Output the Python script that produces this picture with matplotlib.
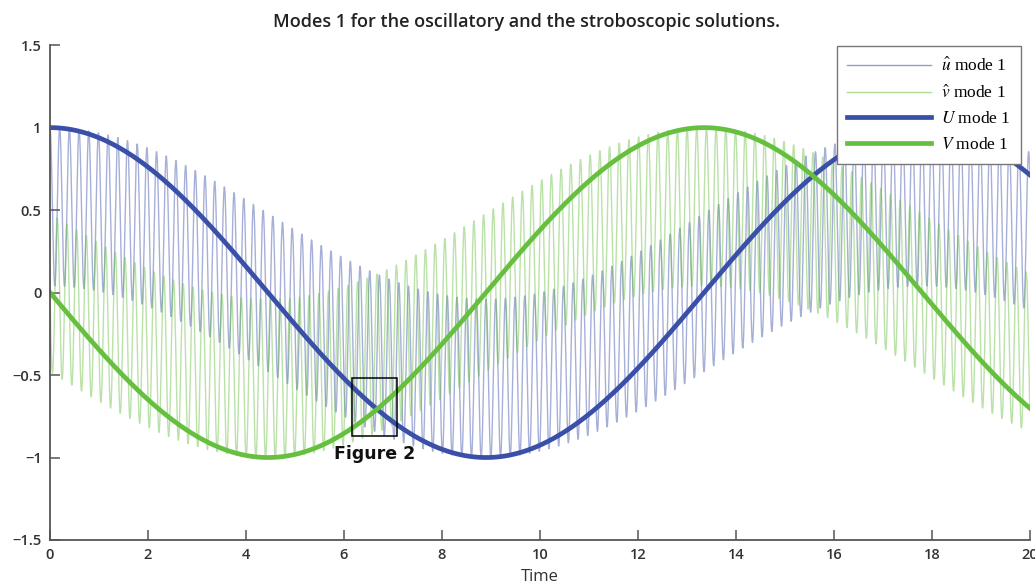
import numpy as np
import matplotlib
matplotlib.use("Agg")
import matplotlib.pyplot as plt
from matplotlib.patches import Rectangle

# values
t_end = 20.0
slow_period = 17.8        # U returns to 1 at about t = 17.8
fast_period = 0.2         # about 100 wiggles over the 20 time units
fast_amp = 0.48           # v-hat spans about +-0.5 around V at t = 0
x_ticks = [0, 2, 4, 6, 8, 10, 12, 14, 16, 18, 20]
y_ticks = [-1.5, -1, -0.5, 0, 0.5, 1, 1.5]
y_tick_labels = ["\u22121.5", "\u22121", "\u22120.5", "0", "0.5", "1", "1.5"]
zoom_box = (6.16, -0.867, 0.92, 0.352)   # x, y, width, height
labels = [r"$\hat{u}$ mode 1", r"$\hat{v}$ mode 1", r"$U$ mode 1", r"$V$ mode 1"]

blue = "#3a4fa8"
green = "#66bf3f"

t = np.linspace(0, t_end, 8000)
w = 2 * np.pi / slow_period
W = 2 * np.pi / fast_period
strobo = np.exp(-1j * w * t)
osc = strobo * (1 + fast_amp * (np.exp(-1j * W * t) - 1))

plt.rcParams["mathtext.fontset"] = "stix"
fig = plt.figure(figsize=(10.35, 5.86), dpi=100)
ax = fig.add_axes([0.0483, 0.0785, 0.9467, 0.8445])

ax.plot(t, osc.real, color=blue, lw=1.0, alpha=0.45, label=labels[0])
ax.plot(t, osc.imag, color=green, lw=1.0, alpha=0.45, label=labels[1])
ax.plot(t, strobo.real, color=blue, lw=3.4, label=labels[2])
ax.plot(t, strobo.imag, color=green, lw=3.4, label=labels[3])

ax.add_patch(Rectangle(zoom_box[:2], zoom_box[2], zoom_box[3],
                       fill=False, ec="black", lw=1.1, zorder=5))
ax.text(zoom_box[0] + zoom_box[2] / 2, -0.925, "Figure 2", ha="center", va="top",
        fontsize=12.5, fontweight="heavy", family="DejaVu Sans",
        color="#111111", zorder=6)

ax.set_xlim(0, t_end)
ax.set_ylim(-1.5, 1.5)
ax.set_xticks(x_ticks)
ax.set_yticks(y_ticks)
ax.set_yticklabels(y_tick_labels)
for side in ["top", "right"]:
    ax.spines[side].set_visible(False)
for side in ["left", "bottom"]:
    ax.spines[side].set_color("#555555")
    ax.spines[side].set_linewidth(1.3)
ax.tick_params(direction="in", length=7, width=1.1, colors="#555555",
               labelcolor="#333333", labelsize=10.5, pad=6)
for lab in ax.get_xticklabels() + ax.get_yticklabels():
    lab.set_family("Open Sans")
    lab.set_fontweight("semibold")

ax.set_xlabel("Time", fontsize=12, family="Open Sans", color="#333333", labelpad=5)
ax.set_title("Modes 1 for the oscillatory and the stroboscopic solutions.",
             fontsize=13, family="Open Sans", fontweight="semibold",
             color="#222222", pad=13, x=0.486)

leg = ax.legend(loc="upper right", bbox_to_anchor=(1.0, 1.015), handlelength=4.8,
                prop={"family": "Liberation Serif", "size": 12.5},
                fancybox=False, framealpha=1, edgecolor="#777777",
                borderpad=0.6, labelspacing=0.55, handletextpad=0.6)
leg.get_frame().set_linewidth(1.0)
for h in leg.get_lines()[:2]:
    h.set_alpha(0.55)

fig.savefig("out.png", dpi=100)
